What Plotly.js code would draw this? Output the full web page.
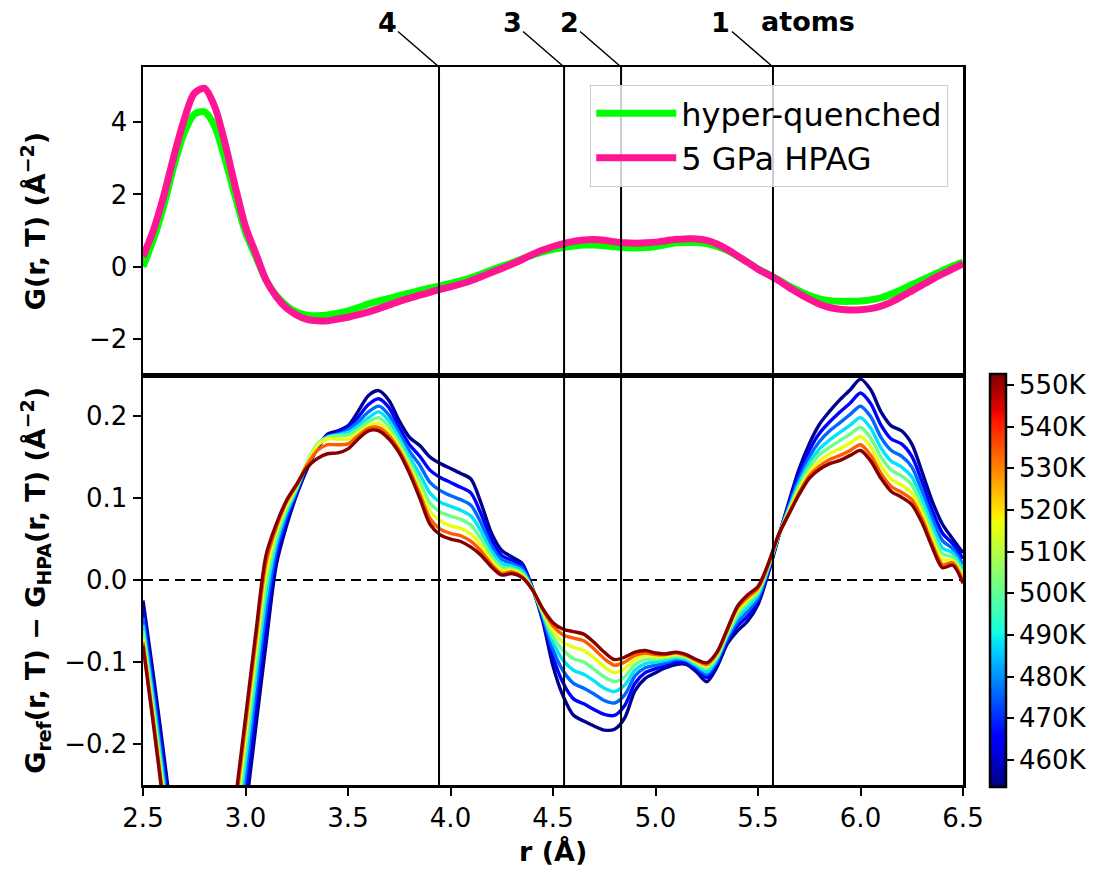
<!DOCTYPE html>
<html>
<head>
<meta charset="utf-8">
<script src="https://cdn.plot.ly/plotly-3.0.1.min.js"></script>
<style>html,body{margin:0;padding:0;background:#fff;}</style>
</head>
<body>
<div id="chart" style="width:1107px;height:874px;"></div>
<script>
// ---------------- DATA ----------------
const r = [2.50,2.55,2.60,2.65,2.70,2.75,2.80,2.85,2.90,2.95,3.00,3.05,3.10,3.15,3.20,3.25,3.30,3.35,3.40,3.45,3.50,3.55,3.60,3.65,3.70,3.75,3.80,3.85,3.90,3.95,4.00,4.05,4.10,4.15,4.20,4.25,4.30,4.35,4.40,4.45,4.50,4.55,4.60,4.65,4.70,4.75,4.80,4.85,4.90,4.95,5.00,5.05,5.10,5.15,5.20,5.25,5.30,5.35,5.40,5.45,5.50,5.55,5.60,5.65,5.70,5.75,5.80,5.85,5.90,5.95,6.00,6.05,6.10,6.15,6.20,6.25,6.30,6.35,6.40,6.45,6.50];

// top panel: G(r,T)
const gHyperQuenched = [0.00,0.74,1.66,2.77,3.69,4.22,4.29,3.88,2.98,1.94,0.95,0.28,-0.37,-0.80,-1.08,-1.26,-1.34,-1.36,-1.34,-1.29,-1.22,-1.13,-1.03,-0.95,-0.88,-0.80,-0.73,-0.66,-0.59,-0.53,-0.46,-0.39,-0.31,-0.20,-0.09,0.01,0.11,0.22,0.32,0.41,0.48,0.53,0.57,0.60,0.60,0.58,0.55,0.53,0.52,0.53,0.56,0.61,0.66,0.67,0.67,0.64,0.56,0.45,0.29,0.12,-0.06,-0.21,-0.36,-0.53,-0.67,-0.80,-0.89,-0.94,-0.96,-0.96,-0.95,-0.92,-0.86,-0.76,-0.64,-0.50,-0.37,-0.24,-0.11,0.02,0.13];
const gHPAG = [0.28,1.00,1.94,3.05,4.06,4.80,4.94,4.43,3.42,2.22,1.11,0.37,-0.37,-0.83,-1.15,-1.34,-1.46,-1.50,-1.50,-1.45,-1.40,-1.33,-1.25,-1.16,-1.06,-0.96,-0.87,-0.79,-0.71,-0.63,-0.56,-0.48,-0.39,-0.28,-0.16,-0.05,0.07,0.20,0.34,0.46,0.56,0.64,0.70,0.74,0.75,0.73,0.69,0.66,0.65,0.66,0.68,0.72,0.76,0.77,0.77,0.73,0.63,0.48,0.30,0.12,-0.07,-0.22,-0.38,-0.57,-0.74,-0.90,-1.04,-1.13,-1.18,-1.20,-1.19,-1.16,-1.09,-0.98,-0.83,-0.67,-0.51,-0.35,-0.20,-0.06,0.08];

// bottom panel: G_ref(r,T) - G_HPA(r,T), one series per temperature (K)
const temperatures = [455, 465, 476, 488, 501, 516, 534, 552];
const d455 = [-0.025,-0.115,-0.210,-0.310,-0.420,-0.530,-0.600,-0.570,-0.490,-0.385,-0.283,-0.180,-0.078,0.018,0.066,0.104,0.135,0.160,0.178,0.182,0.188,0.206,0.225,0.231,0.219,0.194,0.174,0.164,0.150,0.142,0.136,0.130,0.123,0.093,0.057,0.036,0.028,0.020,-0.010,-0.050,-0.105,-0.142,-0.165,-0.172,-0.178,-0.183,-0.182,-0.168,-0.135,-0.120,-0.113,-0.107,-0.103,-0.103,-0.112,-0.124,-0.106,-0.078,-0.062,-0.050,-0.030,0.008,0.052,0.095,0.135,0.166,0.190,0.206,0.220,0.232,0.245,0.232,0.205,0.188,0.182,0.166,0.132,0.096,0.068,0.050,0.033];
const d465 = [-0.036,-0.127,-0.223,-0.325,-0.436,-0.544,-0.596,-0.552,-0.467,-0.362,-0.260,-0.157,-0.056,0.028,0.072,0.107,0.138,0.162,0.176,0.180,0.186,0.199,0.214,0.221,0.210,0.186,0.165,0.151,0.134,0.125,0.119,0.113,0.106,0.080,0.049,0.030,0.024,0.017,-0.010,-0.047,-0.094,-0.126,-0.145,-0.151,-0.158,-0.164,-0.165,-0.153,-0.126,-0.113,-0.108,-0.104,-0.100,-0.101,-0.109,-0.119,-0.102,-0.074,-0.056,-0.044,-0.026,0.010,0.053,0.092,0.129,0.158,0.179,0.193,0.205,0.216,0.228,0.215,0.189,0.172,0.166,0.151,0.120,0.085,0.057,0.044,0.026];
const d476 = [-0.046,-0.138,-0.235,-0.339,-0.450,-0.557,-0.592,-0.536,-0.446,-0.341,-0.239,-0.136,-0.037,0.037,0.078,0.109,0.140,0.164,0.175,0.178,0.183,0.193,0.205,0.212,0.201,0.179,0.157,0.140,0.119,0.109,0.103,0.098,0.091,0.069,0.041,0.025,0.020,0.014,-0.011,-0.044,-0.085,-0.111,-0.126,-0.132,-0.139,-0.147,-0.150,-0.140,-0.117,-0.107,-0.104,-0.101,-0.097,-0.098,-0.106,-0.115,-0.099,-0.071,-0.051,-0.038,-0.022,0.013,0.053,0.089,0.123,0.150,0.169,0.182,0.192,0.202,0.212,0.199,0.174,0.158,0.151,0.138,0.108,0.075,0.048,0.038,0.019];
const d488 = [-0.055,-0.147,-0.245,-0.351,-0.463,-0.568,-0.589,-0.521,-0.428,-0.323,-0.221,-0.118,-0.020,0.045,0.083,0.111,0.142,0.165,0.174,0.177,0.180,0.188,0.198,0.205,0.194,0.173,0.150,0.129,0.106,0.095,0.090,0.085,0.078,0.059,0.035,0.020,0.017,0.011,-0.011,-0.042,-0.076,-0.098,-0.110,-0.115,-0.123,-0.132,-0.136,-0.128,-0.110,-0.102,-0.100,-0.098,-0.095,-0.097,-0.104,-0.112,-0.096,-0.068,-0.046,-0.033,-0.018,0.014,0.054,0.087,0.118,0.143,0.160,0.171,0.180,0.189,0.198,0.185,0.161,0.145,0.138,0.126,0.099,0.066,0.039,0.033,0.013];
const d501 = [-0.062,-0.156,-0.254,-0.361,-0.474,-0.578,-0.586,-0.509,-0.412,-0.307,-0.205,-0.102,-0.005,0.052,0.087,0.113,0.143,0.166,0.174,0.176,0.177,0.184,0.193,0.198,0.187,0.167,0.144,0.120,0.094,0.083,0.078,0.074,0.067,0.050,0.029,0.016,0.014,0.008,-0.011,-0.040,-0.069,-0.086,-0.096,-0.100,-0.109,-0.118,-0.124,-0.118,-0.103,-0.097,-0.097,-0.095,-0.093,-0.095,-0.102,-0.108,-0.094,-0.066,-0.042,-0.028,-0.015,0.016,0.054,0.085,0.114,0.137,0.153,0.162,0.170,0.178,0.186,0.173,0.150,0.134,0.127,0.116,0.090,0.058,0.032,0.028,0.008];
const d516 = [-0.070,-0.164,-0.263,-0.371,-0.485,-0.587,-0.584,-0.497,-0.397,-0.292,-0.190,-0.087,0.009,0.059,0.091,0.115,0.142,0.164,0.172,0.172,0.172,0.180,0.188,0.191,0.181,0.162,0.138,0.112,0.084,0.072,0.066,0.063,0.056,0.042,0.024,0.012,0.012,0.006,-0.012,-0.038,-0.062,-0.076,-0.082,-0.086,-0.095,-0.106,-0.113,-0.108,-0.097,-0.092,-0.094,-0.093,-0.091,-0.093,-0.100,-0.105,-0.091,-0.063,-0.038,-0.024,-0.012,0.018,0.054,0.083,0.110,0.132,0.145,0.154,0.160,0.167,0.175,0.162,0.139,0.123,0.116,0.106,0.082,0.051,0.025,0.024,0.003];
const d534 = [-0.076,-0.170,-0.270,-0.379,-0.494,-0.594,-0.582,-0.487,-0.384,-0.279,-0.177,-0.074,0.021,0.064,0.095,0.116,0.140,0.158,0.165,0.165,0.166,0.176,0.185,0.186,0.176,0.158,0.134,0.105,0.075,0.062,0.057,0.054,0.047,0.035,0.019,0.008,0.010,0.004,-0.012,-0.036,-0.056,-0.067,-0.071,-0.074,-0.084,-0.096,-0.104,-0.100,-0.092,-0.089,-0.091,-0.091,-0.089,-0.092,-0.098,-0.103,-0.089,-0.061,-0.034,-0.021,-0.010,0.019,0.055,0.081,0.106,0.127,0.139,0.147,0.152,0.158,0.165,0.152,0.130,0.114,0.107,0.098,0.075,0.044,0.019,0.021,-0.001];
const d552 = [-0.080,-0.175,-0.275,-0.385,-0.500,-0.600,-0.580,-0.480,-0.375,-0.270,-0.168,-0.065,0.030,0.068,0.097,0.117,0.137,0.148,0.154,0.155,0.160,0.172,0.182,0.182,0.172,0.155,0.130,0.100,0.068,0.055,0.050,0.047,0.040,0.030,0.016,0.006,0.008,0.003,-0.012,-0.035,-0.052,-0.060,-0.063,-0.066,-0.076,-0.088,-0.097,-0.094,-0.088,-0.086,-0.089,-0.090,-0.088,-0.091,-0.097,-0.101,-0.088,-0.060,-0.032,-0.018,-0.008,0.020,0.055,0.080,0.104,0.124,0.135,0.142,0.146,0.152,0.158,0.145,0.124,0.108,0.101,0.092,0.070,0.040,0.015,0.018,-0.004];
const diffSeries = [d455, d465, d476, d488, d501, d516, d534, d552];

// atom shell markers
const shellR = [3.944, 4.554, 4.832, 5.573];
const shellLabels = ['4', '3', '2', '1'];

// colour bar
const cbMin = 453.5, cbMax = 552.6;
const cbTicks = [460, 470, 480, 490, 500, 510, 520, 530, 540, 550];
const cbTickText = ['460K', '470K', '480K', '490K', '500K', '510K', '520K', '530K', '540K', '550K'];

// ---------------- STYLE HELPERS ----------------
const jetStops = [[0,[0,0,127]],[0.11,[0,0,255]],[0.125,[0,0,255]],[0.34,[0,219,255]],[0.35,[0,229,247]],[0.375,[20,255,226]],[0.64,[239,255,8]],[0.65,[247,245,0]],[0.66,[255,236,0]],[0.89,[255,19,0]],[0.91,[232,0,0]],[1,[127,0,0]]];
function jet(t){
  t = Math.max(0, Math.min(1, t));
  for (let i = 1; i < jetStops.length; i++){
    if (t <= jetStops[i][0]){
      const a = jetStops[i-1], b = jetStops[i];
      const u = (t - a[0]) / (b[0] - a[0] || 1);
      const c = a[1].map((v, k) => Math.round(v + u * (b[1][k] - v)));
      return 'rgb(' + c.join(',') + ')';
    }
  }
  return 'rgb(127,0,0)';
}
const jetScale = jetStops.map(s => [s[0], 'rgb(' + s[1].join(',') + ')']);

// ---------------- TRACES ----------------
const traces = [];
temperatures.forEach((T, i) => {
  traces.push({
    type: 'scatter', mode: 'lines', x: r, y: diffSeries[i],
    xaxis: 'x2', yaxis: 'y2', showlegend: false, hoverinfo: 'skip',
    line: {color: jet((T - cbMin) / (cbMax - cbMin)), width: 3.4, shape: 'spline', smoothing: 0.8}
  });
});
traces.push({type:'scatter', mode:'lines', x:r, y:gHyperQuenched, xaxis:'x', yaxis:'y', name:'hyper-quenched',
  line:{color:'rgb(0,255,0)', width:7, shape:'spline', smoothing:0.8}});
traces.push({type:'scatter', mode:'lines', x:r, y:gHPAG, xaxis:'x', yaxis:'y', name:'5 GPa HPAG',
  line:{color:'rgb(255,20,147)', width:7, shape:'spline', smoothing:0.8}});
// colour bar carrier (no visible marks)
traces.push({type:'scatter', mode:'markers', x:[null], y:[null], xaxis:'x2', yaxis:'y2', showlegend:false, hoverinfo:'skip',
  marker:{color:[cbMin], cmin:cbMin, cmax:cbMax, colorscale:jetScale, showscale:true,
    colorbar:{x:1.0329, xanchor:'left', xpad:0, y:0.5724, yanchor:'top', ypad:0,
      lenmode:'pixels', len:413, thicknessmode:'pixels', thickness:16,
      outlinewidth:2.5, outlinecolor:'black', ticks:'outside', ticklen:7, tickwidth:2, tickcolor:'black',
      tickmode:'array', tickvals:cbTicks, ticktext:cbTickText, tickfont:{size:26, color:'black'}}}});

// ---------------- LAYOUT ----------------
const axisCommon = {showline:true, mirror:true, linewidth:2.5, linecolor:'black', showgrid:false, zeroline:false,
  ticks:'outside', ticklen:8, tickwidth:2, tickcolor:'black', tickfont:{size:26, color:'black'}};
const domSplit = 0.571;

const shapes = [];
shellR.forEach(x => shapes.push({type:'line', xref:'x2', yref:'paper', x0:x, x1:x, y0:0, y1:1, layer:'above',
  line:{color:'black', width:2}}));
shapes.push({type:'line', xref:'paper', yref:'y2', x0:0, x1:1, y0:0, y1:0, layer:'below',
  line:{color:'black', width:2, dash:'10px,6px'}});

const annotations = [];
shellR.forEach((x, i) => annotations.push({xref:'x2', yref:'paper', x:x, y:1, ax:-52, ay:-45,
  text:'<b>' + shellLabels[i] + '</b>', showarrow:true, arrowhead:0, arrowwidth:1.5, arrowcolor:'black', standoff:0,
  font:{size:27, color:'black'}}));
annotations.push({xref:'paper', yref:'paper', x:0.811, y:1.0627, xanchor:'center', yanchor:'middle', showarrow:false,
  text:'<b>atoms</b>', font:{size:27, color:'black'}});
annotations.push({xref:'paper', yref:'paper', x:-0.134, y:(domSplit + 1) / 2, xanchor:'center', yanchor:'middle', showarrow:false,
  textangle:-90, text:'<b>G(r, T) (Å<sup>−2</sup>)</b>', font:{size:27, color:'black'}});
annotations.push({xref:'paper', yref:'paper', x:-0.132, y:domSplit / 2, xanchor:'center', yanchor:'middle', showarrow:false,
  textangle:-90, text:'<b>G<sub>ref</sub>(r, T) − G<sub>HPA</sub>(r, T) (Å<sup>−2</sup>)</b>', font:{size:27, color:'black'}});
annotations.push({xref:'paper', yref:'paper', x:0.5, y:-0.0933, xanchor:'center', yanchor:'middle', showarrow:false,
  text:'<b>r (Å)</b>', font:{size:27, color:'black'}});

const layout = {
  width:1107, height:874,
  margin:{l:143, r:144, t:67, b:89, pad:0},
  paper_bgcolor:'white', plot_bgcolor:'white',
  font:{family:'DejaVu Sans', size:26, color:'black'},
  showlegend:true,
  legend:{x:0.982, xanchor:'right', y:0.975, yanchor:'top', bgcolor:'rgba(255,255,255,0.8)',
    bordercolor:'#cccccc', borderwidth:1, itemwidth:80, font:{size:32, color:'black'}},
  xaxis:Object.assign({}, axisCommon, {domain:[0,1], anchor:'y', matches:'x2', range:[2.5,6.5], showticklabels:false, ticks:''}),
  yaxis:Object.assign({}, axisCommon, {domain:[domSplit,1], anchor:'x', range:[-3.0,5.53], tickvals:[-2,0,2,4], tickformat:'d'}),
  xaxis2:Object.assign({}, axisCommon, {domain:[0,1], anchor:'y2', range:[2.5,6.5], tick0:2.5, dtick:0.5, tickformat:'.1f'}),
  yaxis2:Object.assign({}, axisCommon, {domain:[0,domSplit], anchor:'x2', range:[-0.25,0.25], tickvals:[-0.2,-0.1,0,0.1,0.2], tickformat:'.1f'}),
  shapes:shapes,
  annotations:annotations
};

Plotly.newPlot('chart', traces, layout, {staticPlot:true, displayModeBar:false});
</script>
</body>
</html>
